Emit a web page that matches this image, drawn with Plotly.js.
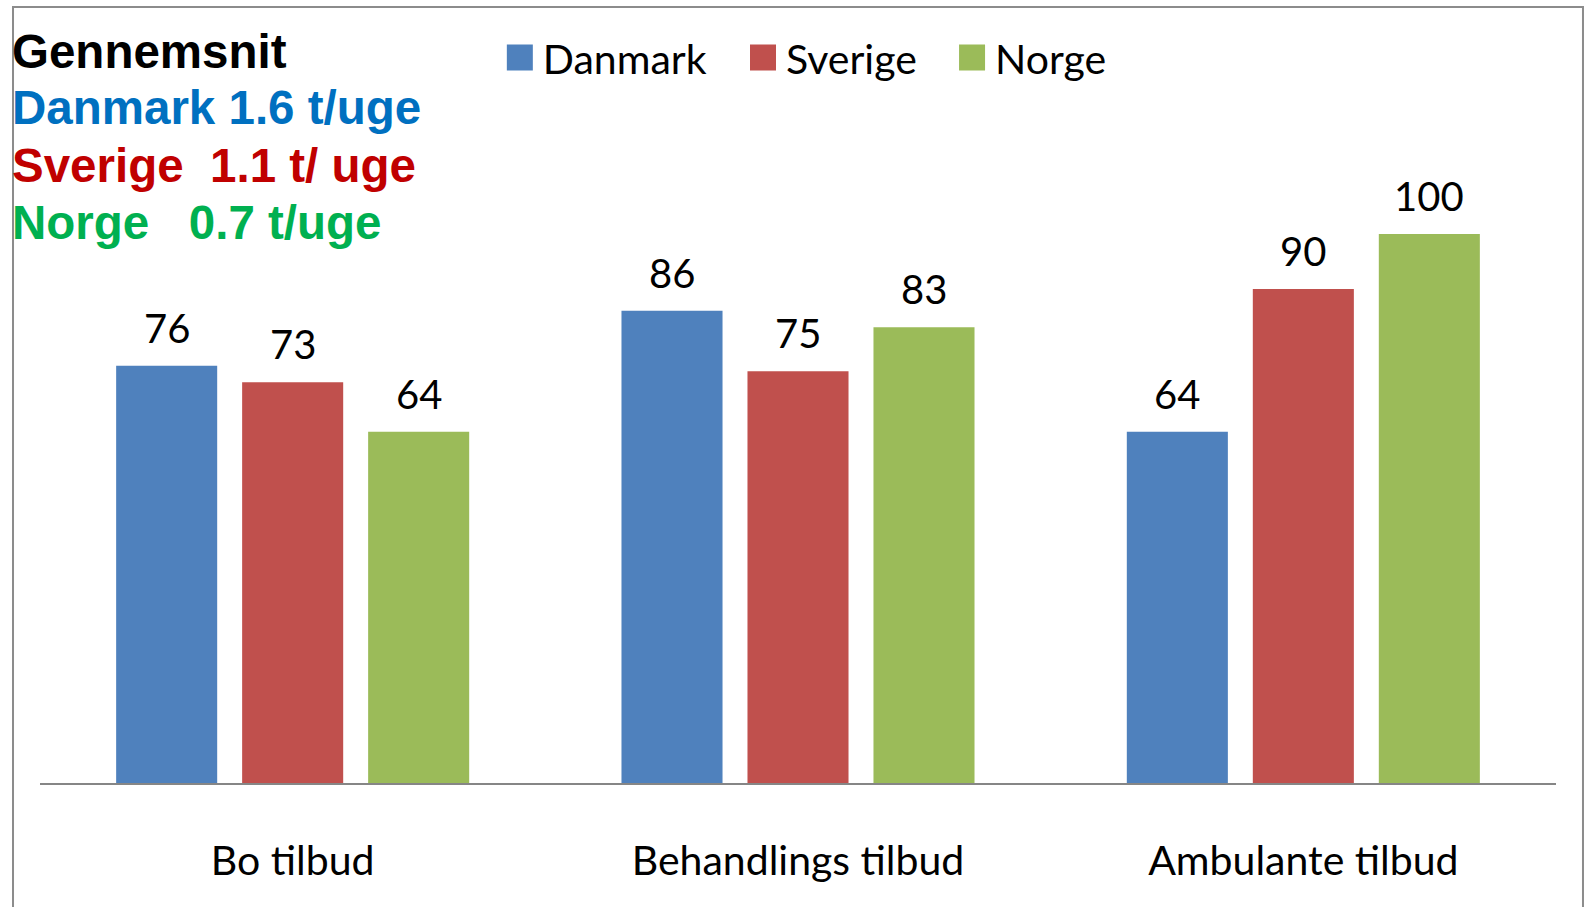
<!DOCTYPE html>
<html>
<head>
<meta charset="utf-8">
<script src="https://cdn.plot.ly/plotly-3.0.1.min.js"></script>
<style>
  html, body { margin: 0; padding: 0; background: #ffffff; }
  #chart { width: 1588px; height: 907px; }
</style>
</head>
<body>
<div id="chart"></div>
<script>
// ---- data ----
const categories = ['Bo tilbud', 'Behandlings tilbud', 'Ambulante tilbud'];
const seriesNames = ['Danmark', 'Sverige', 'Norge'];
const danmark = [76, 86, 64];
const sverige = [73, 75, 90];
const norge = [64, 83, 100];
const averageTitle = 'Gennemsnit';
const averageLines = ['Danmark 1.6 t/uge', 'Sverige\u00a0\u00a01.1 t/ uge', 'Norge\u00a0\u00a0\u00a00.7 t/uge'];

// ---- styles ----
const barColors = ['#4F81BD', '#C0504D', '#9BBB59'];
const avgColors = ['#0070C0', '#C00000', '#00B050'];
const labelFont = 'Lato, "Open Sans", sans-serif';
const boldFont = '"Liberation Sans", Arial, sans-serif';

const seriesValues = [danmark, sverige, norge];
const legendIds = ['legend', 'legend2', 'legend3'];
const legendX = [0.3053, 0.4657, 0.6036];

const bargap = 0.252;
const slot = (1 - bargap) / seriesValues.length;

const traces = seriesValues.map((vals, j) => ({
  type: 'bar',
  name: seriesNames[j],
  x: categories,
  y: vals,
  marker: { color: barColors[j] },
  legend: legendIds[j],
  hoverinfo: 'x+y+name'
}));

const annotations = [];
// value labels above bars
seriesValues.forEach((vals, j) => {
  vals.forEach((v, i) => {
    annotations.push({
      xref: 'x', yref: 'y',
      x: i + (j - (seriesValues.length - 1) / 2) * slot,
      y: v,
      text: String(v),
      showarrow: false,
      xanchor: 'center', yanchor: 'bottom',
      yshift: 12,
      font: { family: labelFont, size: 40, color: '#000000' }
    });
  });
});
// averages block top-left
const avgY = [1.0266, 0.948, 0.8654, 0.7868];
annotations.push({
  xref: 'paper', yref: 'paper', x: -0.0198, y: avgY[0],
  xanchor: 'left', yanchor: 'middle', showarrow: false,
  text: '<b>' + averageTitle + '</b>',
  font: { family: boldFont, size: 47.5, color: '#000000' }
});
averageLines.forEach((t, k) => {
  annotations.push({
    xref: 'paper', yref: 'paper', x: -0.0198, y: avgY[k + 1],
    xanchor: 'left', yanchor: 'middle', showarrow: false,
    text: '<b>' + t + '</b>',
    font: { family: boldFont, size: 47.5, color: avgColors[k] }
  });
});

const legendBase = {
  orientation: 'h',
  yanchor: 'middle', y: 1.017,
  xanchor: 'left',
  bgcolor: 'rgba(0,0,0,0)',
  borderwidth: 0,
  font: { family: labelFont, size: 41, color: '#000000' }
};

const layout = {
  width: 1588,
  height: 907,
  margin: { l: 40, r: 32, t: 70, b: 124, autoexpand: false },
  paper_bgcolor: '#ffffff',
  plot_bgcolor: '#ffffff',
  barmode: 'group',
  bargap: bargap,
  bargroupgap: 0.198,
  showlegend: true,
  legend: Object.assign({}, legendBase, { x: legendX[0] }),
  legend2: Object.assign({}, legendBase, { x: legendX[1] }),
  legend3: Object.assign({}, legendBase, { x: legendX[2] }),
  xaxis: {
    type: 'category',
    showline: true,
    linecolor: '#868686',
    linewidth: 2,
    ticks: '',
    showgrid: false,
    zeroline: false,
    tickfont: { family: labelFont, size: 41, color: '#000000' },
    ticklabelstandoff: 41,
    fixedrange: true
  },
  yaxis: {
    range: [0, 129.87],
    visible: false,
    showgrid: false,
    zeroline: false,
    fixedrange: true
  },
  annotations: annotations,
  shapes: [{
    type: 'rect', xref: 'paper', yref: 'paper',
    x0: -0.0178, x1: 1.0178, y0: -0.2, y1: 1.0884,
    line: { color: '#8c8c8c', width: 2 },
    fillcolor: 'rgba(0,0,0,0)',
    layer: 'below'
  }]
};

Plotly.newPlot('chart', traces, layout, { displayModeBar: false, staticPlot: true }).then(() => {
  document.querySelectorAll('.legendpoints path').forEach(p => {
    p.setAttribute('d', 'M13,13H-13V-13H13Z');
    p.setAttribute('transform', 'translate(17,0)');
  });
});
</script>
</body>
</html>
